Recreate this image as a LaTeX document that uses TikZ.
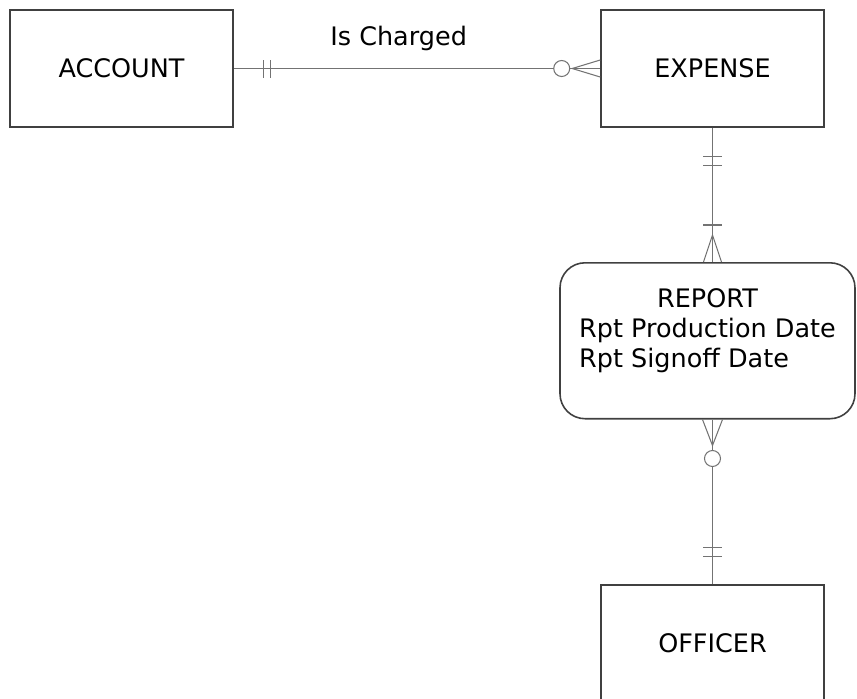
\documentclass[tikz,border=0pt]{standalone}
\usepackage{fontspec}
\setmainfont{DejaVu Sans}
\usetikzlibrary{calc}

\begin{document}
\begin{tikzpicture}[
  font=\fontsize{14.5}{17}\selectfont,
  entity/.style={draw=black!75, line width=0.9pt, minimum width=4.46cm, minimum height=2.34cm},
  weakentity/.style={draw=black!75, line width=0.9pt, rounded corners=0.5cm, minimum width=5.9cm, inner ysep=0.48cm, text depth=1.74cm},
  rel/.style={draw=black!55, line width=0.6pt}
]
  \useasboundingbox (0,0) rectangle (17.14,-13.96);
  \clip (0,0) rectangle (17.14,-13.96);

  \node[entity] (account) at (2.43,-1.37) {ACCOUNT};
  \node[entity] (expense) at (14.25,-1.37) {EXPENSE};
  \node[weakentity, anchor=north] (report) at (14.15,-5.24) {\begin{tabular}[t]{@{}l@{}}\multicolumn{1}{@{}c@{}}{REPORT}\\ Rpt Production Date\\ Rpt Signoff Date\end{tabular}};
  \node[entity] (officer) at (14.25,-12.87) {OFFICER};

  \coordinate (rtop) at (expense.south |- report.north);
  \coordinate (rbot) at (officer.north |- report.south);

  \draw[rel] (account) -- node[pos=0.45, above=0.22cm] (charged) {Is Charged} (expense);
  \draw[rel] (expense.south) -- (rtop);
  \draw[rel] (rbot) -- (officer.north);

  % account -- expense
  \foreach \d in {0.6,0.74}
    \draw[rel] ($(account.east)+(\d,-0.18)$) -- ++(0,0.36);
  \draw[rel] ($(expense.west)+(-0.56,0)$) -- ($(expense.west)+(0,0.17)$)
             ($(expense.west)+(-0.56,0)$) -- ($(expense.west)+(0,-0.17)$);
  \draw[rel, fill=white] ($(expense.west)+(-0.77,0)$) circle (0.16);

  % expense -- report
  \foreach \d in {0.58,0.76}
    \draw[rel] ($(expense.south)+(-0.19,-\d)$) -- ++(0.38,0);
  \draw[rel] ($(rtop)+(-0.19,0.74)$) -- ++(0.38,0);
  \draw[rel] ($(rtop)+(0,0.54)$) -- ($(rtop)+(-0.18,0)$)
             ($(rtop)+(0,0.54)$) -- ($(rtop)+(0.18,0)$);

  % report -- officer
  \draw[rel] ($(rbot)+(0,-0.52)$) -- ($(rbot)+(-0.2,0)$)
             ($(rbot)+(0,-0.52)$) -- ($(rbot)+(0.2,0)$);
  \draw[rel, fill=white] ($(rbot)+(0,-0.78)$) circle (0.16);
  \foreach \d in {0.56,0.74}
    \draw[rel] ($(officer.north)+(-0.19,\d)$) -- ++(0.38,0);
\end{tikzpicture}
\end{document}
